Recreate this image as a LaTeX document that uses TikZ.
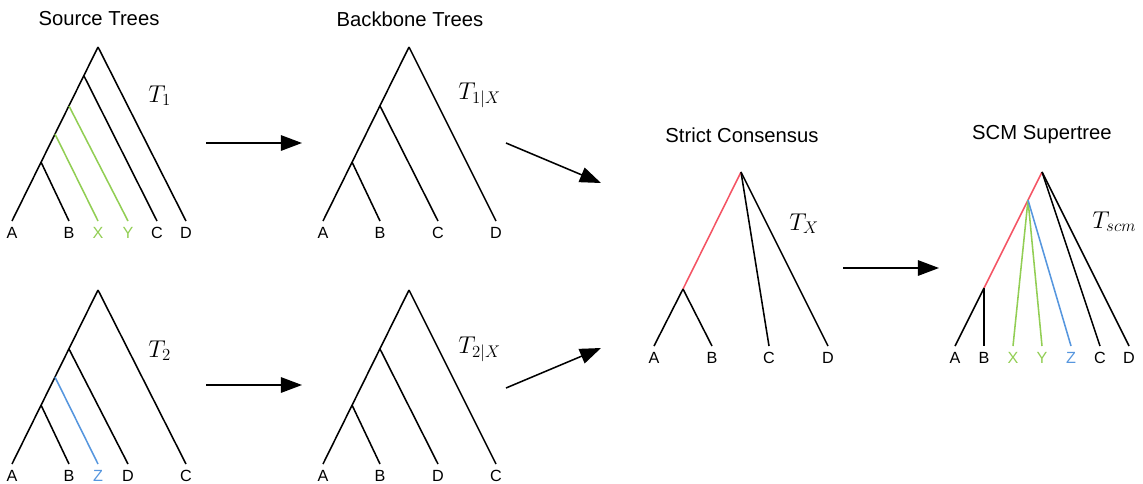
\documentclass[tikz,border=0pt]{standalone}
\usepackage{fontspec}
\newfontfamily\arialf{Liberation Sans}
\usepackage{tikz}
\usetikzlibrary{positioning, arrows.meta}
\usepackage{xcolor}
\definecolor{taxG}{RGB}{146, 206, 84}
\definecolor{taxB}{RGB}{86, 150, 222}
\definecolor{bbR}{RGB}{244, 84, 100}

\begin{document}
\begin{tikzpicture}[x=0.025cm, y=-0.025cm,
  branch/.style={line width=1.1pt},
  leaf/.style={font=\arialf\fontsize{11.5}{13}\selectfont, inner sep=0pt},
  title/.style={font=\arialf\Large, inner sep=0pt},
  tname/.style={font=\LARGE, inner sep=0pt, anchor=base west},
  flow/.style={line width=1.1pt, -{Triangle[length=15pt, width=11pt]}}]
  \useasboundingbox (0,0) rectangle (1143,483);

  % titles
  \node[title] (tsrc) at (99,19) {Source Trees};
  \node[title] (tbb) at (410,19) {Backbone Trees};
  \node[title] (tsc) at (742,135) {Strict Consensus};
  \node[title] (tscm) at (1042,135) {SCM Supertree};

  % source tree T1
  \coordinate (s1r) at (98,47);
  \coordinate (s1c) at (84,76);
  \coordinate (s1y) at (69,106);
  \coordinate (s1x) at (55,134);
  \coordinate (s1ab) at (41,162);
  \foreach \n/\x/\c in {A/12/black, B/69/black, X/98/taxG, Y/128/taxG, C/157/black, D/186/black} {
    \coordinate (s1\n) at (\x,221);
    \node[leaf, text=\c, below=4pt of s1\n] (s1\n l) {\n};
  }
  \draw[branch] (s1r) -- (s1A);
  \draw[branch] (s1r) -- (s1D);
  \draw[branch] (s1c) -- (s1C);
  \draw[branch, taxG] (s1y) -- (s1Y);
  \draw[branch, taxG] (s1x) -- (s1X);
  \draw[branch] (s1ab) -- (s1B);
  \node[tname] (n1) at (148,102) {$T_1$};

  % source tree T2
  \coordinate (s2r) at (98,290);
  \coordinate (s2d) at (69,349);
  \coordinate (s2z) at (55,377);
  \coordinate (s2ab) at (41,405);
  \foreach \n/\x/\c in {A/12/black, B/69/black, Z/98/taxB, D/128/black, C/186/black} {
    \coordinate (s2\n) at (\x,464);
    \node[leaf, text=\c, below=4pt of s2\n] (s2\n l) {\n};
  }
  \draw[branch] (s2r) -- (s2A);
  \draw[branch] (s2r) -- (s2C);
  \draw[branch] (s2d) -- (s2D);
  \draw[branch, taxB] (s2z) -- (s2Z);
  \draw[branch] (s2ab) -- (s2B);
  \node[tname] (n2) at (148,357) {$T_2$};

  % backbone T1|X
  \coordinate (b1r) at (409,47);
  \coordinate (b1c) at (380,106);
  \coordinate (b1ab) at (352,162);
  \foreach \n/\x in {A/323, B/380, C/438, D/496} {
    \coordinate (b1\n) at (\x,221);
    \node[leaf, below=4pt of b1\n] (b1\n l) {\n};
  }
  \draw[branch] (b1r) -- (b1A);
  \draw[branch] (b1r) -- (b1D);
  \draw[branch] (b1c) -- (b1C);
  \draw[branch] (b1ab) -- (b1B);
  \node[tname] (n3) at (458,99) {$T_{1|X}$};

  % backbone T2|X
  \coordinate (b2r) at (409,290);
  \coordinate (b2d) at (380,349);
  \coordinate (b2ab) at (352,405);
  \foreach \n/\x in {A/323, B/380, D/438, C/496} {
    \coordinate (b2\n) at (\x,464);
    \node[leaf, below=4pt of b2\n] (b2\n l) {\n};
  }
  \draw[branch] (b2r) -- (b2A);
  \draw[branch] (b2r) -- (b2C);
  \draw[branch] (b2d) -- (b2D);
  \draw[branch] (b2ab) -- (b2B);
  \node[tname] (n4) at (458,353) {$T_{2|X}$};

  % strict consensus
  \coordinate (cr) at (741,172);
  \coordinate (cab) at (683,289);
  \foreach \n/\x in {A/654, B/712, C/769, D/828} {
    \coordinate (c\n) at (\x,346);
    \node[leaf, below=4pt of c\n] (c\n l) {\n};
  }
  \draw[branch, bbR] (cr) -- (cab);
  \draw[branch] (cab) -- (cA);
  \draw[branch] (cab) -- (cB);
  \draw[branch] (cr) -- (cC);
  \draw[branch] (cr) -- (cD);
  \node[tname] (n5) at (789,230) {$T_X$};

  % SCM supertree
  \coordinate (mr) at (1042,172);
  \coordinate (mi) at (1028,200);
  \coordinate (mab) at (984,288);
  \foreach \n/\x/\c in {A/955/black, B/984/black, X/1013/taxG, Y/1042/taxG, Z/1071/taxB, C/1100/black, D/1129/black} {
    \coordinate (m\n) at (\x,346);
    \node[leaf, text=\c, below=4pt of m\n] (m\n l) {\n};
  }
  \draw[branch, bbR] (mr) -- (mab);
  \draw[branch] (mab) -- (mA);
  \draw[branch] (mab) -- (mB);
  \draw[branch, taxG] (mi) -- (mX);
  \draw[branch, taxG] (mi) -- (mY);
  \draw[branch, taxB] (mi) -- (mZ);
  \draw[branch] (mr) -- (mC);
  \draw[branch] (mr) -- (mD);
  \node[tname] (n6) at (1092,228) {$T_{scm}$};

  % arrows
  \coordinate (a1s) at (206,143); \coordinate (a1e) at (302,143);
  \coordinate (a2s) at (206,385); \coordinate (a2e) at (302,385);
  \coordinate (a3s) at (506,143); \coordinate (a3e) at (601,183);
  \coordinate (a4s) at (506,388); \coordinate (a4e) at (601,348);
  \coordinate (a5s) at (843,268); \coordinate (a5e) at (939,268);
  \draw[flow] (a1s) -- (a1e);
  \draw[flow] (a2s) -- (a2e);
  \draw[flow] (a3s) -- (a3e);
  \draw[flow] (a4s) -- (a4e);
  \draw[flow] (a5s) -- (a5e);
\end{tikzpicture}
\end{document}
